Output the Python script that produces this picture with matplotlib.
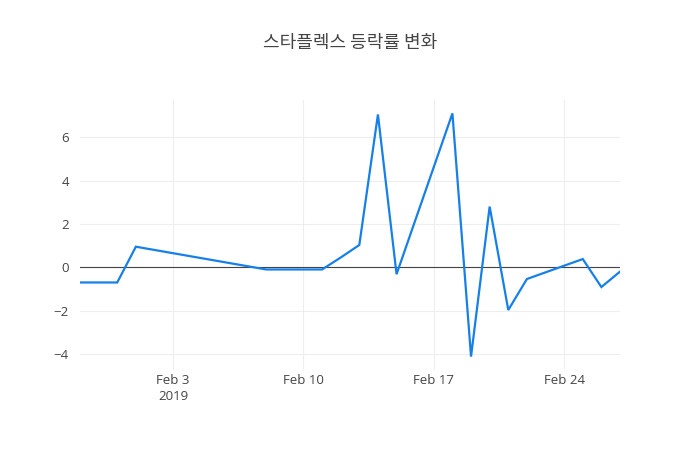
import numpy as np
import pandas as pd
import matplotlib
matplotlib.use('Agg')
import matplotlib.pyplot as plt
import matplotlib.dates as mdates

# daily change rate (%)
dates = ['2019-01-29', '2019-01-30', '2019-01-31', '2019-02-01', '2019-02-08',
         '2019-02-11', '2019-02-12', '2019-02-13', '2019-02-14', '2019-02-15',
         '2019-02-18', '2019-02-19', '2019-02-20', '2019-02-21', '2019-02-22',
         '2019-02-25', '2019-02-26', '2019-02-27']
rates = [-0.70, -0.70, -0.70, 0.95, -0.10,
         -0.10, 0.45, 1.03, 7.05, -0.32,
         7.10, -4.12, 2.80, -1.97, -0.54,
         0.38, -0.91, -0.20]

tick_dates = ['2019-02-03', '2019-02-10', '2019-02-17', '2019-02-24']
tick_labels = ['Feb 3\n2019', 'Feb 10', 'Feb 17', 'Feb 24']
y_ticks = [-4, -2, 0, 2, 4, 6]

title = '스타플렉스 등락률 변화'

x = pd.to_datetime(dates)

fig = plt.figure(figsize=(7, 4.5), dpi=100)
ax = fig.add_axes([80 / 700, 80 / 450, 540 / 700, 270 / 450])

ax.plot(x, rates, color='#1780e8', lw=1.6, solid_joinstyle='miter', zorder=3)
ax.axhline(0, color='#444444', lw=0.8, zorder=2)

ax.set_xlim(x[0], x[-1])
lo, hi = min(rates), max(rates)
pad = (hi - lo) * 0.055
ax.set_ylim(lo - pad, hi + pad)

ax.set_xticks(pd.to_datetime(tick_dates))
ax.set_xticklabels(tick_labels, linespacing=1.25)
ax.set_yticks(y_ticks)
ax.set_yticklabels([str(v).replace('-', '\u2212') for v in y_ticks])

ax.grid(True, color='#eeeeee', lw=0.8, zorder=0)
for s in ax.spines.values():
    s.set_visible(False)
ax.tick_params(length=0, colors='#444444', labelsize=9.5, pad=8)
for lbl in ax.get_xticklabels() + ax.get_yticklabels():
    lbl.set_family(['Open Sans', 'DejaVu Sans'])
ax.tick_params(axis='x', pad=3)

fig.text(0.5, 1 - 43 / 450, title, ha='center', va='center', fontsize=13,
         color='#444444', family=['Noto Sans CJK KR', 'DejaVu Sans'])

fig.savefig('out.png', dpi=100, facecolor='white')
